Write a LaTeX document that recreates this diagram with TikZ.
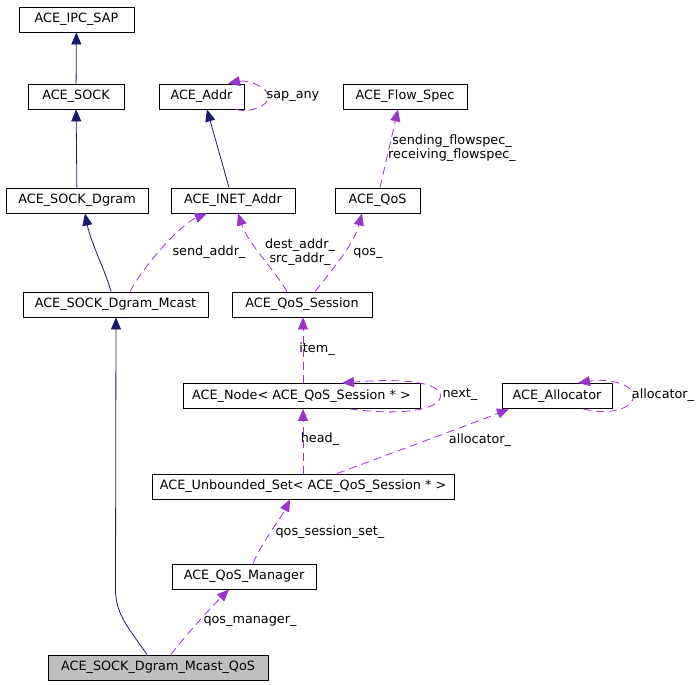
\documentclass[tikz,border=0pt]{standalone}
\usepackage{fontspec}
\setmainfont{DejaVu Sans}
\usetikzlibrary{arrows.meta}
\definecolor{inhc}{HTML}{191970}
\definecolor{usec}{HTML}{9A32CD}
\definecolor{hl}{HTML}{BFBFBF}
\begin{document}
\begin{tikzpicture}[x=1pt,y=1pt,
  cls/.style={draw=black, line width=0.9pt, minimum height=25pt, inner sep=0pt, font=\fontsize{12.8}{14}\selectfont},
  inh/.style={draw=inhc, line width=0.8pt, -{Triangle[length=12pt,width=10pt]}},
  use/.style={draw=usec, line width=0.8pt, dash pattern=on 8pt off 5pt, -{Triangle[length=12pt,width=10pt]}},
  lbl/.style={font=\fontsize{12.8}{14}\selectfont, inner sep=0pt, align=center}]
\useasboundingbox (0,0) rectangle (699,685);
% classes
\node[cls, minimum width=115pt] (ipc) at (76.5,665.5) {ACE\_IPC\_SAP};
\node[cls, minimum width=96pt] (sock) at (76,588.5) {ACE\_SOCK};
\node[cls, minimum width=85pt] (addr) at (201.5,588.5) {ACE\_Addr};
\node[cls, minimum width=124pt] (flow) at (405,588.5) {ACE\_Flow\_Spec};
\node[cls, minimum width=142pt] (dgram) at (77,484.5) {ACE\_SOCK\_Dgram};
\node[cls, minimum width=124pt] (inet) at (233,484.5) {ACE\_INET\_Addr};
\node[cls, minimum width=85pt] (qos) at (377.5,484.5) {ACE\_QoS};
\node[cls, minimum width=185pt] (mcast) at (115.5,380.5) {ACE\_SOCK\_Dgram\_Mcast};
\node[cls, minimum width=140pt] (qsess) at (302,380.5) {ACE\_QoS\_Session};
\node[cls, minimum width=237pt] (anode) at (301.5,289) {ACE\_Node< ACE\_QoS\_Session * >};
\node[cls, minimum width=110pt] (alloc) at (557,289) {ACE\_Allocator};
\node[cls, minimum width=302pt] (unb) at (303,198.5) {ACE\_Unbounded\_Set< ACE\_QoS\_Session * >};
\node[cls, minimum width=144pt] (mgr) at (244,108.5) {ACE\_QoS\_Manager};
\node[cls, minimum width=220pt, fill=hl] (mcq) at (158,17.5) {ACE\_SOCK\_Dgram\_Mcast\_QoS};
% inheritance
\draw[inh] (sock) -- (ipc);
\draw[inh] (dgram) -- (sock);
\draw[inh] ([xshift=-4pt]inet.north) -- ([xshift=5.5pt]addr.south);
\draw[inh] ([xshift=-4.5pt]mcast.north) .. controls +(-6,22) and +(6,-30) .. ([xshift=8pt]dgram.south);
\draw[inh] ([xshift=-11pt]mcq.north) .. controls +(-18,26) and +(0,-25) .. (mcast.south |- mgr.south) -- ([xshift=0.5pt]mcast.south);
% usage
\draw[use] ([xshift=14.5pt]mcast.north) .. controls +(15,28) and +(-25,-10) .. ([xshift=-26pt]inet.south);
\draw[use] ([xshift=-15pt]qsess.north) .. controls +(-15,25) and +(10,-30) .. ([xshift=5pt]inet.south);
\draw[use] ([xshift=13pt]qsess.north) .. controls +(20,25) and +(-8,-30) .. ([xshift=-15.5pt]qos.south);
\draw[use] ([xshift=2.5pt]qos.north) -- ([xshift=-7pt]flow.south);
\draw[use] ([xshift=34.5pt]addr.south) .. controls +(16,-4) and +(0,-9) .. ([xshift=24pt]addr.east) .. controls +(0,9) and +(20,4) .. ([xshift=26.5pt]addr.north);
\draw[use] ([xshift=48.5pt]anode.south) .. controls +(50,-7) and +(0,-14) .. ([xshift=20pt]anode.east) .. controls +(0,14) and +(60,5) .. ([xshift=40.5pt]anode.north);
\draw[use] ([xshift=26pt]alloc.south) .. controls +(28,-7) and +(0,-12) .. ([xshift=21pt]alloc.east) .. controls +(0,12) and +(30,5) .. ([xshift=21pt]alloc.north);
\draw[use] ([xshift=1.5pt]anode.north) -- ([xshift=1pt]qsess.south);
\draw[use] (unb.north) -- ([xshift=1.5pt]anode.south);
\draw[use] ([xshift=34pt]unb.north) .. controls +(40,15) and +(-30,-12) .. ([xshift=-48pt]alloc.south);
\draw[use] ([xshift=9pt]mgr.north) .. controls +(8,20) and +(-10,-20) .. ([xshift=-13pt]unb.south);
\draw[use] ([xshift=13pt]mcq.north) .. controls +(15,20) and +(-15,-15) .. ([xshift=-15pt]mgr.south);
% labels
\node[lbl] (lsap) at (293,589) {sap\_any};
\node[lbl] (lsend) at (209,433) {send\_addr\_};
\node[lbl] (ldest) at (300,433) {dest\_addr\_\\src\_addr\_};
\node[lbl] (lqos) at (368,432) {qos\_};
\node[lbl] (lflow) at (452,536.5) {sending\_flowspec\_\\receiving\_flowspec\_};
\node[lbl] (litem) at (317,336) {item\_};
\node[lbl] (lnext) at (460,290) {next\_};
\node[lbl] (lalloc1) at (663,290) {allocator\_};
\node[lbl] (lhead) at (320,246) {head\_};
\node[lbl] (lalloc2) at (480,245) {allocator\_};
\node[lbl] (lqss) at (330,153) {qos\_session\_set\_};
\node[lbl] (lqm) at (250,64) {qos\_manager\_};
\end{tikzpicture}
\end{document}
